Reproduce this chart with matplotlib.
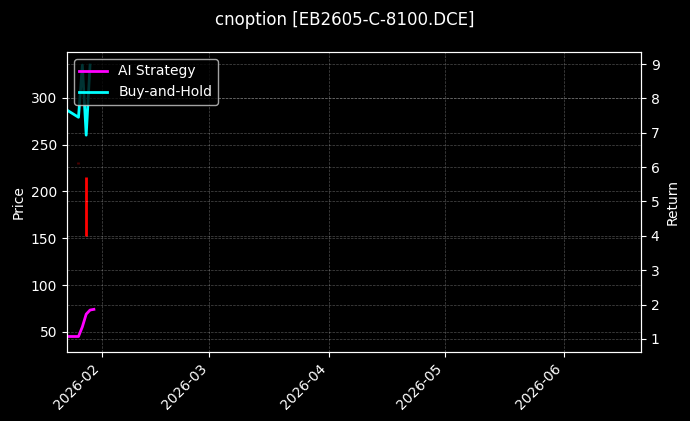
import matplotlib
matplotlib.use("Agg")
import matplotlib.pyplot as plt
import matplotlib.dates as mdates
import pandas as pd

# Data
dates = pd.to_datetime(["2026-01-23", "2026-01-26", "2026-01-27",
                        "2026-01-28", "2026-01-29", "2026-01-30"])
ai_return = [1.07, 1.07, 1.35, 1.72, 1.84, 1.86]
bh_dates = dates[:5]
bh_return = [7.66, 7.45, 8.97, 6.93, 8.97]

# price candles (body only)
candle_dates = pd.to_datetime(["2026-01-26", "2026-01-28"])
candle_open = [231, 216]
candle_close = [229, 152.6]
candle_alpha = [0.3, 1.0]

x_start = pd.Timestamp("2026-01-23")
x_end = pd.Timestamp("2026-06-21")

plt.style.use("dark_background")
fig, ax = plt.subplots(figsize=(6.9, 4.21), dpi=100)
fig.patch.set_facecolor("black")
ax.set_facecolor("black")
fig.subplots_adjust(left=0.097, right=0.929, top=0.8765, bottom=0.164)

# Price on left axis
for d, o, c, a in zip(candle_dates, candle_open, candle_close, candle_alpha):
    col = "red" if c < o else "lime"
    ax.vlines(d, min(o, c), max(o, c), color=col, linewidth=2, alpha=a)
ax.set_ylim(28.6, 349)
ax.set_ylabel("Price")
ax.grid(True, linestyle="--", linewidth=0.5, alpha=0.3)

# Returns on right axis
ax2 = ax.twinx()
ax2.plot(dates, ai_return, color="magenta", linewidth=2, label="AI Strategy")
ax2.plot(bh_dates, bh_return, color="cyan", linewidth=2, label="Buy-and-Hold")
ax2.set_ylim(0.62, 9.35)
ax2.set_ylabel("Return")
ax2.grid(True, linestyle="--", linewidth=0.5, alpha=0.3)
ax2.legend(loc="upper left")

ax.set_xlim(x_start, x_end)
ax.xaxis.set_major_locator(mdates.MonthLocator())
ax.xaxis.set_major_formatter(mdates.DateFormatter("%Y-%m"))
plt.setp(ax.get_xticklabels(), rotation=45, ha="right")

fig.suptitle("cnoption [EB2605-C-8100.DCE]", fontsize=12, y=0.975)

fig.savefig("out.png", dpi=100, facecolor=fig.get_facecolor())
